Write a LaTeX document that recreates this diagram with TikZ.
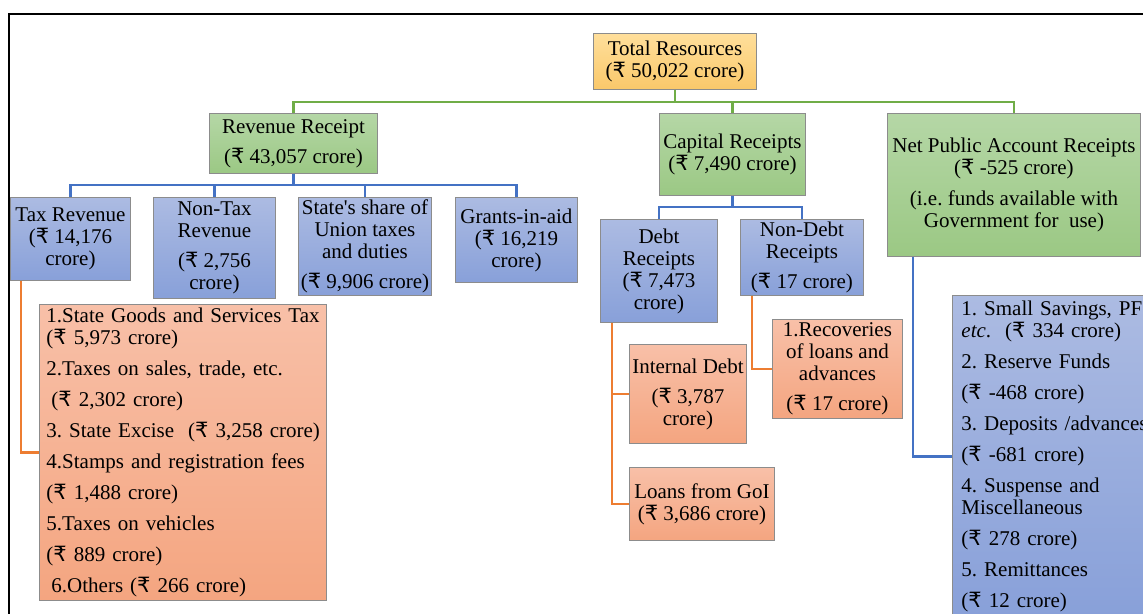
\documentclass[tikz,border=0pt]{standalone}
\usepackage{fontspec}
\setmainfont{Liberation Serif}[Ligatures=TeXOff]
\newfontfamily\rupeefont{DejaVu Sans}
\newcommand{\rs}{\iffontchar\font"20B9\relax ₹\else{\rupeefont ₹}\fi}
\frenchspacing

\definecolor{boxline}{RGB}{140,140,140}
\definecolor{greentop}{RGB}{181,215,166}
\definecolor{greenbot}{RGB}{155,200,132}
\definecolor{bluetop}{RGB}{172,187,226}
\definecolor{bluebot}{RGB}{136,160,217}
\definecolor{salmontop}{RGB}{248,192,168}
\definecolor{salmonbot}{RGB}{244,165,128}
\definecolor{goldtop}{RGB}{255,223,155}
\definecolor{goldbot}{RGB}{250,200,106}
\definecolor{greenline}{RGB}{112,173,71}
\definecolor{blueline}{RGB}{68,114,196}
\definecolor{orangeline}{RGB}{237,125,49}

\begin{document}
\begin{tikzpicture}[x=1pt,y=-1pt,
            box/.style={draw=boxline, line width=0.9pt, inner sep=2pt, align=center, anchor=north west,
                        font=\fontsize{21}{22}\selectfont},
            wh/.style 2 args={minimum width=#1pt, minimum height=#2pt},
            goldbox/.style={box, top color=goldtop, bottom color=goldbot},
            greenbox/.style={box, top color=greentop, bottom color=greenbot},
            bluebox/.style={box, top color=bluetop, bottom color=bluebot},
            salmonbox/.style={box, top color=salmontop, bottom color=salmonbot},
            listbox/.style={align=left, inner xsep=7pt},
            gwire/.style={draw=greenline, line width=2.4pt},
            bwire/.style={draw=blueline, line width=2.4pt},
            owire/.style={draw=orangeline, line width=2.4pt}
  ]

  \useasboundingbox (0,0) rectangle (1143,613);
  \clip (0,0) rectangle (1143,613);
  \draw[line width=1.5pt] (9,640) -- (9,14) -- (1170,14);

  \node[goldbox, wh={163}{56}] (total) at (593,33) {Total Resources\\(\rs{} 50,022 crore)};

  \node[greenbox, wh={168}{60}] (rev) at (209,113) {Revenue Receipt\\[8pt](\rs{} 43,057 crore)};
  \node[greenbox, wh={146}{82}] (cap) at (659,113) {Capital Receipts\\(\rs{} 7,490 crore)};
  \node[greenbox, wh={253}{143}] (netpub) at (887,113) {Net Public Account Receipts\\(\rs{} -525 crore)\\[9pt](i.e. funds available with\\Government for~ use)};

  \node[bluebox, wh={120}{83}] (taxrev) at (10,197) {Tax Revenue\\(\rs{} 14,176\\crore)};
  \node[bluebox, wh={122}{101}] (nontax) at (153,197) {Non-Tax\\Revenue\\[8pt](\rs{} 2,756\\crore)};
  \node[bluebox, wh={133}{98}] (share) at (298,197) {State's share of\\Union taxes\\and duties\\[8pt](\rs{} 9,906 crore)};
  \node[bluebox, wh={122}{85}] (grants) at (455,197) {Grants-in-aid\\(\rs{} 16,219\\crore)};

  \node[bluebox, wh={117}{103}] (debt) at (600,219) {Debt\\Receipts\\(\rs{} 7,473\\crore)};
  \node[bluebox, wh={123}{76}] (nondebt) at (740,219) {Non-Debt\\Receipts\\[8pt](\rs{} 17 crore)};

  \node[salmonbox, wh={117}{99}] (intdebt) at (629,344) {Internal Debt\\[8pt](\rs{} 3,787\\crore)};
  \node[salmonbox, wh={145}{73}] (loans) at (629,467) {Loans from GoI\\(\rs{} 3,686 crore)};
  \node[salmonbox, wh={130}{99}] (recov) at (772,319) {1.Recoveries\\of loans and\\advances\\[8pt](\rs{} 17 crore)};

  \node[salmonbox, listbox, text width=273pt, minimum height=296pt] (taxlist) at (39,304) {\mbox{1.State Goods and Services Tax}\\(\rs{} 5,973 crore)\\[9pt]2.Taxes on sales, trade, etc.\\[9pt]\hspace*{5pt}(\rs{} 2,302 crore)\\[9pt]\mbox{3. State Excise~ (\rs{} 3,258 crore)}\\[9pt]\mbox{4.Stamps and registration fees}\\[9pt](\rs{} 1,488 crore)\\[9pt]5.Taxes on vehicles\\[9pt](\rs{} 889 crore)\\[9pt]\hspace*{5pt}6.Others (\rs{} 266 crore)};

  \node[bluebox, listbox, text width=210pt, inner xsep=9pt, minimum height=322pt] (nplist) at (952,295) {1. Small Savings, PF\\\textit{etc}.~ (\rs{} 334 crore)\\[9pt]2. Reserve Funds\\[9pt](\rs{} -468 crore)\\[9pt]\mbox{3. Deposits /advances}\\[9pt](\rs{} -681 crore)\\[9pt]4. Suspense and\\Miscellaneous\\[9pt](\rs{} 278 crore)\\[9pt]5. Remittances\\[9pt](\rs{} 12 crore)};

  \coordinate (gbus) at (0,102);
  \coordinate (bbus) at (0,185);
  \coordinate (cbus) at (0,207);

  \foreach \n in {rev,cap,netpub}
    \draw[gwire] (total.south) -- (total.south |- gbus) -| (\n.north);
  \foreach \n in {taxrev,nontax,share,grants}
    \draw[bwire] (rev.south) -- (rev.south |- bbus) -| (\n.north);
  \foreach \n in {debt,nondebt}
    \draw[bwire] (cap.south) -- (cap.south |- cbus) -| (\n.north);

  \draw[owire] ([xshift=11pt]taxrev.south west) |- (taxlist.west);
  \draw[owire] ([xshift=12pt]debt.south west) |- (intdebt.west);
  \draw[owire] ([xshift=12pt]debt.south west) |- (loans.west);
  \draw[owire] ([xshift=12pt]nondebt.south west) |- (recov.west);
  \draw[bwire] ([xshift=26pt]netpub.south west) |- (nplist.west);

\end{tikzpicture}
\end{document}
